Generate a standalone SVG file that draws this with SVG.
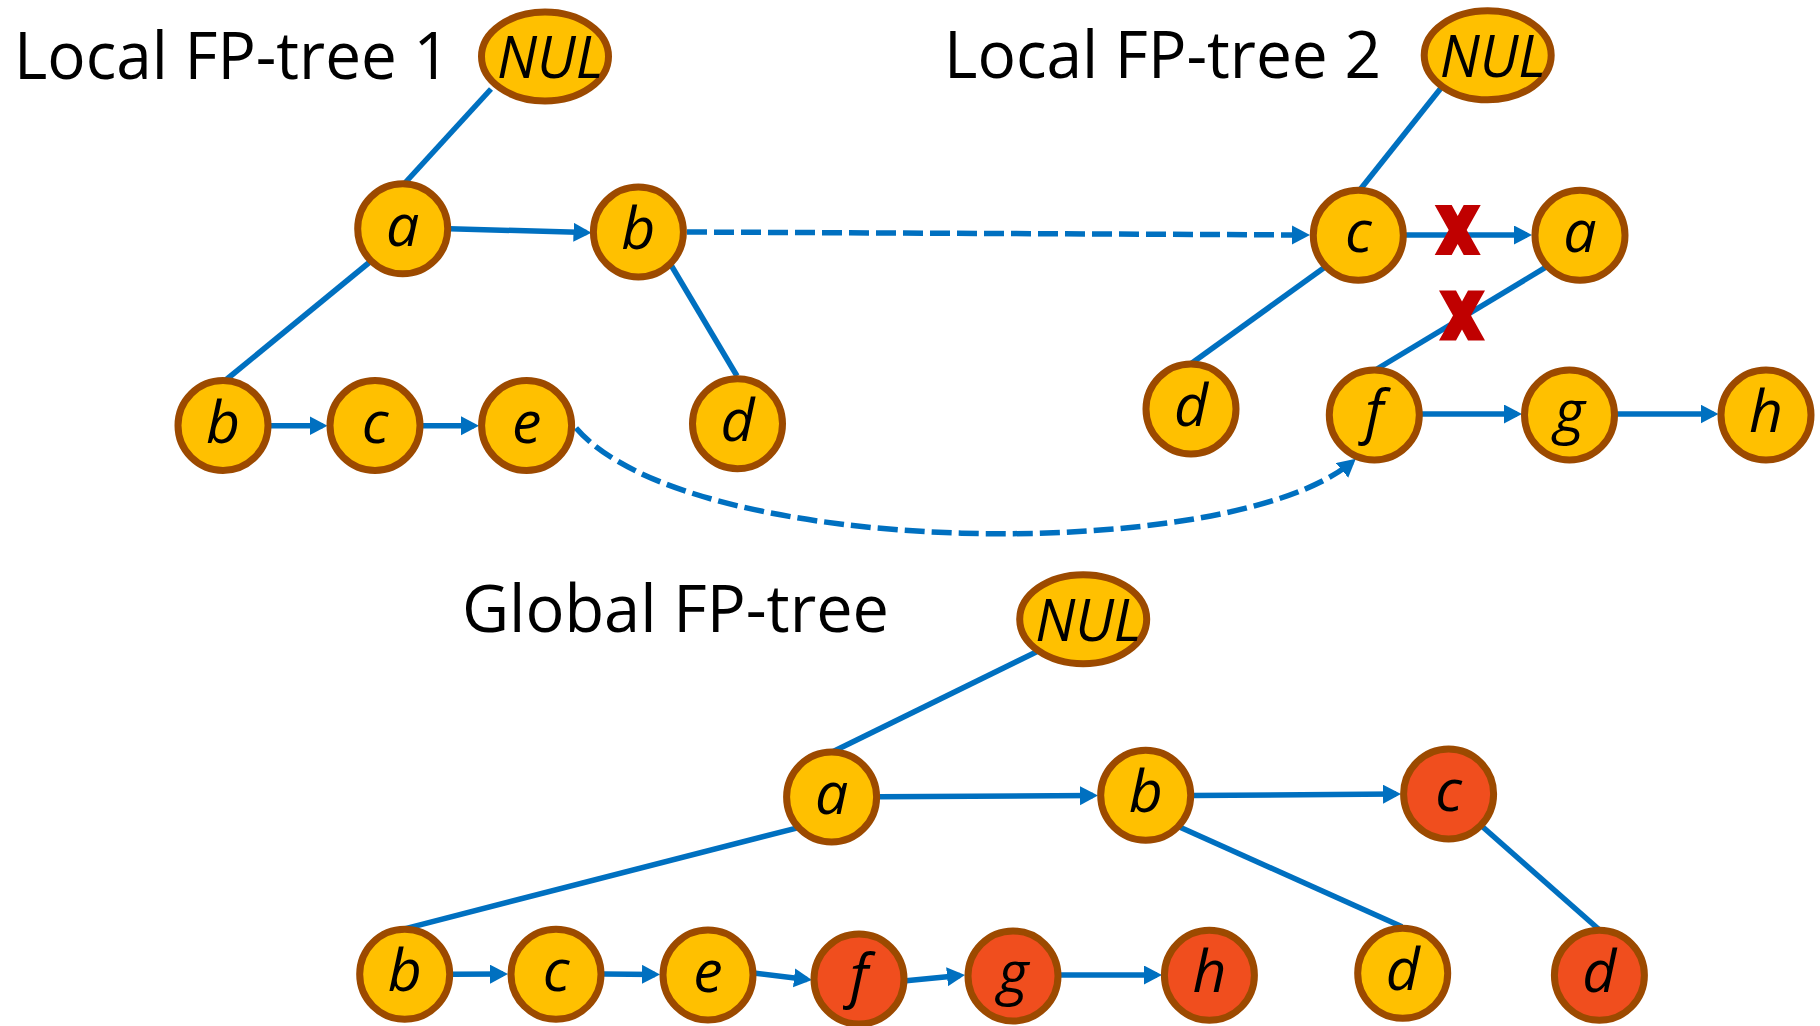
<svg xmlns="http://www.w3.org/2000/svg" xmlns:xlink="http://www.w3.org/1999/xlink" width="1820" height="1026" viewBox="0 0 1820 1026">
  <style>
    .title { font-family: "Open Sans", "Liberation Sans", sans-serif; font-size: 66px; fill: #000; }
    .node { fill: #FFC000; stroke: #9C4A00; stroke-width: 7; }
    .node.hot { fill: #F04E1E; }
    .lbl { font-family: "Open Sans", "Liberation Sans", sans-serif; font-style: italic; font-size: 59px; fill: #000; text-anchor: middle; }
    .edge { stroke: #0070C0; stroke-width: 5.5; fill: none; }
    .link { stroke: #0070C0; stroke-width: 5.5; fill: none; marker-end: url(#arrow); }
    .dash { stroke: #0070C0; stroke-width: 5.5; fill: none; stroke-dasharray: 20 7; marker-end: url(#arrow); }
    .cut { fill: #C00000; }
  </style>
  <defs>
    <marker id="arrow" markerUnits="userSpaceOnUse" markerWidth="20" markerHeight="20" refX="13" refY="9.5" orient="auto">
      <path d="M0,0 L18,9.5 L0,19 Z" fill="#0070C0"/>
    </marker>
    <!-- bold cross marking a removed link -->
    <polygon id="xmark" points="-23,-25 -6,-25 0,-14 6,-25 23,-25 9,0 23,25 6,25 0,14 -6,25 -23,25 -9,0"/>
  </defs>

  <rect width="1820" height="1026" fill="#FFFFFF"/>

  <!-- titles -->
  <text class="title" x="14" y="79" textLength="436" lengthAdjust="spacingAndGlyphs">Local FP-tree 1</text>
  <text class="title" x="944" y="78" textLength="437" lengthAdjust="spacingAndGlyphs">Local FP-tree 2</text>
  <text class="title" x="462" y="632" textLength="427" lengthAdjust="spacingAndGlyphs">Global FP-tree</text>

  <!-- connectors -->
  <g id="connectors">
    <!-- local tree 1 -->
    <line class="edge" x1="491" y1="89" x2="404" y2="184"/>
    <line class="edge" x1="371" y1="261" x2="224.6" y2="381"/>
    <line class="edge" x1="671" y1="265" x2="737" y2="376"/>
    <line class="link" x1="449.6" y1="228.7" x2="586.5" y2="232.6"/>
    <line class="link" x1="271" y1="425.7" x2="322.5" y2="425.7"/>
    <line class="link" x1="422.8" y1="425.7" x2="474" y2="425.7"/>
    <!-- cross-tree links -->
    <line class="dash" x1="687" y1="232" x2="1305" y2="235"/>
    <path class="dash" d="M576,428 C690,560 1230,565 1352,462"/>
    <!-- local tree 2 -->
    <line class="edge" x1="1441" y1="88" x2="1359" y2="191"/>
    <line class="edge" x1="1325.4" y1="266.7" x2="1191.6" y2="363.3"/>
    <line class="edge" x1="1548.4" y1="265.7" x2="1375.3" y2="370"/>
    <line class="link" x1="1406" y1="235" x2="1527" y2="235"/>
    <line class="link" x1="1421" y1="414" x2="1517" y2="414"/>
    <line class="link" x1="1617" y1="414" x2="1713.5" y2="414"/>
    <!-- global tree -->
    <line class="edge" x1="1036.7" y1="651.7" x2="832.7" y2="751.7"/>
    <line class="edge" x1="799.5" y1="827.3" x2="402.6" y2="929.3"/>
    <line class="edge" x1="1179" y1="826.7" x2="1402" y2="926.7"/>
    <line class="edge" x1="1482.5" y1="826.7" x2="1598.7" y2="929.3"/>
    <line class="link" x1="879.6" y1="796.7" x2="1093" y2="795.6"/>
    <line class="link" x1="1193" y1="795.5" x2="1396" y2="794.1"/>
    <line class="link" x1="452.5" y1="974.3" x2="503" y2="974.1"/>
    <line class="link" x1="604" y1="974" x2="655" y2="974.4"/>
    <line class="link" x1="755.6" y1="973.3" x2="807" y2="979.4"/>
    <line class="link" x1="906" y1="980.7" x2="960" y2="975.5"/>
    <line class="link" x1="1060.7" y1="975" x2="1157" y2="975"/>
  </g>

  <!-- removed links -->
  <use xlink:href="#xmark" class="cut" x="1457.7" y="230"/>
  <use xlink:href="#xmark" class="cut" x="1462" y="315.5"/>

  <!-- local tree 1 nodes -->
  <g id="t1-null"><ellipse class="node" cx="545" cy="56.5" rx="63.5" ry="44.5"/><text class="lbl" x="550" y="78" textLength="106" lengthAdjust="spacingAndGlyphs">NUL</text></g>
  <g id="t1-a"><circle class="node" cx="402.7" cy="228.8" r="45"/><text class="lbl" x="402.7" y="246">a</text></g>
  <g id="t1-b"><circle class="node" cx="638.4" cy="232" r="45"/><text class="lbl" x="638.4" y="249">b</text></g>
  <g id="t1-b2"><circle class="node" cx="223" cy="425.5" r="45"/><text class="lbl" x="223" y="442.5">b</text></g>
  <g id="t1-c"><circle class="node" cx="375" cy="425.5" r="45"/><text class="lbl" x="375" y="442.5">c</text></g>
  <g id="t1-e"><circle class="node" cx="526.6" cy="425.5" r="45"/><text class="lbl" x="526.6" y="442.5">e</text></g>
  <g id="t1-d"><circle class="node" cx="737.5" cy="423.7" r="45"/><text class="lbl" x="737.5" y="440.7">d</text></g>

  <!-- local tree 2 nodes -->
  <g id="t2-null"><ellipse class="node" cx="1487.7" cy="55.3" rx="63.5" ry="44.5"/><text class="lbl" x="1492.7" y="77" textLength="106" lengthAdjust="spacingAndGlyphs">NUL</text></g>
  <g id="t2-c"><circle class="node" cx="1358.3" cy="235.3" r="45"/><text class="lbl" x="1358.3" y="252.3">c</text></g>
  <g id="t2-a"><circle class="node" cx="1580" cy="235.3" r="45"/><text class="lbl" x="1580" y="252.3">a</text></g>
  <g id="t2-d"><circle class="node" cx="1191" cy="409" r="45"/><text class="lbl" x="1191" y="426">d</text></g>
  <g id="t2-f"><circle class="node" cx="1374.3" cy="415" r="45"/><text class="lbl" x="1374.3" y="432">f</text></g>
  <g id="t2-g"><circle class="node" cx="1569.5" cy="415" r="45"/><text class="lbl" x="1569.5" y="432">g</text></g>
  <g id="t2-h"><circle class="node" cx="1766" cy="415" r="45"/><text class="lbl" x="1766" y="432">h</text></g>

  <!-- global tree nodes -->
  <g id="g-null"><ellipse class="node" cx="1083.2" cy="619.2" rx="63.5" ry="44.5"/><text class="lbl" x="1088.2" y="641" textLength="106" lengthAdjust="spacingAndGlyphs">NUL</text></g>
  <g id="g-a"><circle class="node" cx="831.6" cy="797" r="45"/><text class="lbl" x="831.6" y="814">a</text></g>
  <g id="g-b"><circle class="node" cx="1145.7" cy="795.3" r="45"/><text class="lbl" x="1145.7" y="812.3">b</text></g>
  <g id="g-c"><circle class="node hot" cx="1448.6" cy="794" r="45"/><text class="lbl" x="1448.6" y="811">c</text></g>
  <g id="g-b2"><circle class="node" cx="404.7" cy="974.3" r="45"/><text class="lbl" x="404.7" y="991.3">b</text></g>
  <g id="g-c2"><circle class="node" cx="556" cy="974.3" r="45"/><text class="lbl" x="556" y="991.3">c</text></g>
  <g id="g-e"><circle class="node" cx="708" cy="975" r="45"/><text class="lbl" x="708" y="992">e</text></g>
  <g id="g-f"><circle class="node hot" cx="859" cy="979" r="45"/><text class="lbl" x="859" y="996">f</text></g>
  <g id="g-g"><circle class="node hot" cx="1013" cy="976" r="45"/><text class="lbl" x="1013" y="993">g</text></g>
  <g id="g-h"><circle class="node hot" cx="1209.4" cy="975.3" r="45"/><text class="lbl" x="1209.4" y="992.3">h</text></g>
  <g id="g-d"><circle class="node" cx="1402.7" cy="973.3" r="45"/><text class="lbl" x="1402.7" y="990.3">d</text></g>
  <g id="g-d2"><circle class="node hot" cx="1599.4" cy="975.3" r="45"/><text class="lbl" x="1599.4" y="992.3">d</text></g>
</svg>
